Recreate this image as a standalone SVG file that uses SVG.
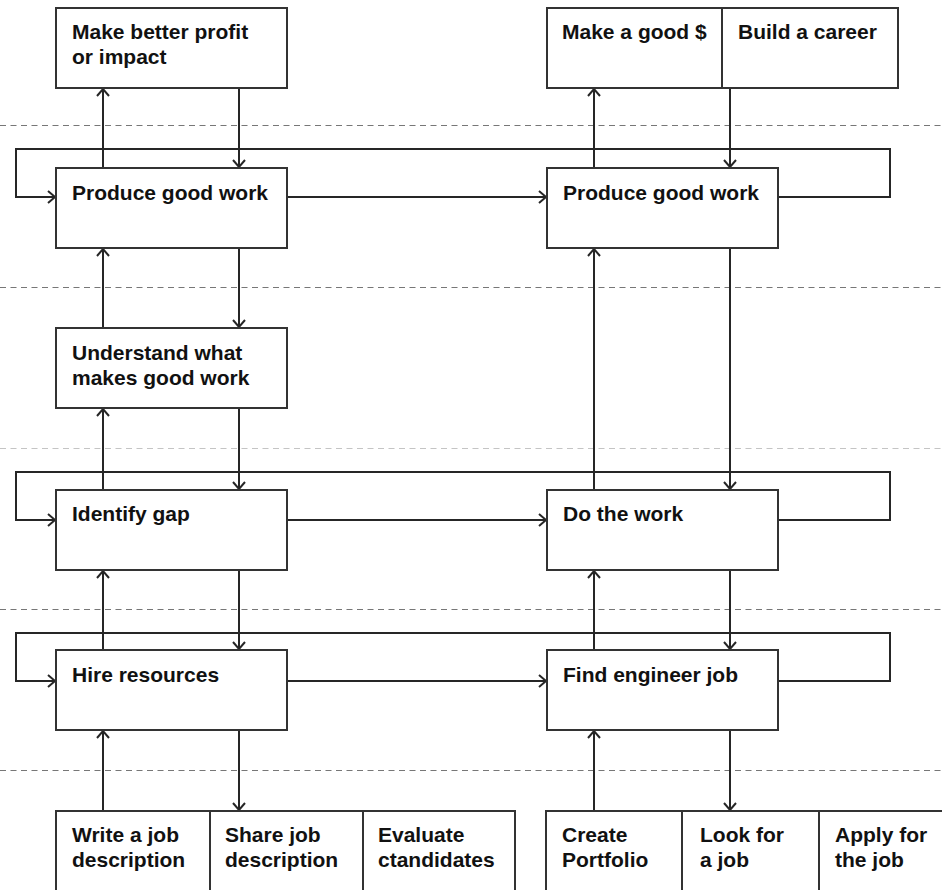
<svg xmlns="http://www.w3.org/2000/svg" width="942" height="890" viewBox="0 0 942 890">
  <style>
    .box { fill: #ffffff; stroke: #333333; stroke-width: 2; }
    .lbl { font-family: "Liberation Sans", Arial, Helvetica, sans-serif; font-weight: bold; font-size: 21px; fill: #111111; }
    .sep { stroke: #777777; stroke-width: 1.2; stroke-dasharray: 6 4.5; fill: none; }
    .sep-light { stroke: #c4c4c4; }
    .wire { stroke: #262626; stroke-width: 2; fill: none; }
    .arr { marker-end: url(#head); }
  </style>
  <defs>
    <marker id="head" viewBox="-9 -8 11 16" markerWidth="11" markerHeight="16" refX="0" refY="0" orient="auto" markerUnits="userSpaceOnUse">
      <path d="M-7,-6 L0,0 L-7,6" fill="none" stroke="#262626" stroke-width="2"/>
    </marker>
  </defs>
  <rect width="942" height="890" fill="#ffffff"/>

  <!-- lane separators -->
  <g id="separators">
    <line class="sep" x1="0" y1="125.5" x2="942" y2="125.5"/>
    <line class="sep" x1="0" y1="287.5" x2="942" y2="287.5"/>
    <line class="sep sep-light" x1="0" y1="448.5" x2="942" y2="448.5"/>
    <line class="sep" x1="0" y1="609.5" x2="942" y2="609.5"/>
    <line class="sep" x1="0" y1="770.5" x2="942" y2="770.5"/>
  </g>

  <!-- connectors -->
  <g id="connectors">
    <!-- feedback loops from right column back to left column -->
    <path class="wire arr" d="M778,197 H890 V149 H16 V197 H55"/>
    <path class="wire arr" d="M778,520 H890 V472 H16 V520 H55"/>
    <path class="wire arr" d="M778,681 H890 V633 H16 V681 H55"/>

    <!-- left column to right column -->
    <path class="wire arr" d="M287,197 H546"/>
    <path class="wire arr" d="M287,520 H546"/>
    <path class="wire arr" d="M287,681 H546"/>

    <!-- left column verticals -->
    <path class="wire arr" d="M103,168 V89"/>
    <path class="wire arr" d="M239,88 V167"/>
    <path class="wire arr" d="M103,328 V249"/>
    <path class="wire arr" d="M239,248 V327"/>
    <path class="wire arr" d="M103,490 V409"/>
    <path class="wire arr" d="M239,408 V489"/>
    <path class="wire arr" d="M103,650 V571"/>
    <path class="wire arr" d="M239,570 V649"/>
    <path class="wire arr" d="M103,811 V731"/>
    <path class="wire arr" d="M239,730 V810"/>

    <!-- right column verticals -->
    <path class="wire arr" d="M594,168 V89"/>
    <path class="wire arr" d="M730,88 V167"/>
    <path class="wire arr" d="M594,490 V249"/>
    <path class="wire arr" d="M730,248 V489"/>
    <path class="wire arr" d="M594,650 V571"/>
    <path class="wire arr" d="M730,570 V649"/>
    <path class="wire arr" d="M594,811 V731"/>
    <path class="wire arr" d="M730,730 V810"/>
  </g>

  <!-- left column -->
  <g id="profit">
    <rect class="box" x="56" y="8" width="231" height="80"/>
    <text class="lbl" x="72" y="39">Make better profit</text>
    <text class="lbl" x="72" y="64">or impact</text>
  </g>
  <g id="good-work-left">
    <rect class="box" x="56" y="168" width="231" height="80"/>
    <text class="lbl" x="72" y="200">Produce good work</text>
  </g>
  <g id="understand">
    <rect class="box" x="56" y="328" width="231" height="80"/>
    <text class="lbl" x="72" y="360">Understand what</text>
    <text class="lbl" x="72" y="385">makes good work</text>
  </g>
  <g id="identify-gap">
    <rect class="box" x="56" y="490" width="231" height="80"/>
    <text class="lbl" x="72" y="521">Identify gap</text>
  </g>
  <g id="hire">
    <rect class="box" x="56" y="650" width="231" height="80"/>
    <text class="lbl" x="72" y="682">Hire resources</text>
  </g>
  <g id="write-jd">
    <rect class="box" x="56" y="811" width="154" height="100"/>
    <text class="lbl" x="72" y="842">Write a job</text>
    <text class="lbl" x="72" y="867">description</text>
  </g>
  <g id="share-jd">
    <rect class="box" x="210" y="811" width="153" height="100"/>
    <text class="lbl" x="225" y="842">Share job</text>
    <text class="lbl" x="225" y="867">description</text>
  </g>
  <g id="evaluate">
    <rect class="box" x="363" y="811" width="152" height="100"/>
    <text class="lbl" x="378" y="842">Evaluate</text>
    <text class="lbl" x="378" y="867">ctandidates</text>
  </g>

  <!-- right column -->
  <g id="good-money">
    <rect class="box" x="547" y="8" width="175" height="80"/>
    <text class="lbl" x="562" y="39">Make a good $</text>
  </g>
  <g id="career">
    <rect class="box" x="722" y="8" width="176" height="80"/>
    <text class="lbl" x="738" y="39">Build a career</text>
  </g>
  <g id="good-work-right">
    <rect class="box" x="547" y="168" width="231" height="80"/>
    <text class="lbl" x="563" y="200">Produce good work</text>
  </g>
  <g id="do-work">
    <rect class="box" x="547" y="490" width="231" height="80"/>
    <text class="lbl" x="563" y="521">Do the work</text>
  </g>
  <g id="find-job">
    <rect class="box" x="547" y="650" width="231" height="80"/>
    <text class="lbl" x="563" y="682">Find engineer job</text>
  </g>
  <g id="portfolio">
    <rect class="box" x="546" y="811" width="136" height="100"/>
    <text class="lbl" x="562" y="842">Create</text>
    <text class="lbl" x="562" y="867">Portfolio</text>
  </g>
  <g id="look-job">
    <rect class="box" x="682" y="811" width="137" height="100"/>
    <text class="lbl" x="700" y="842">Look for</text>
    <text class="lbl" x="700" y="867">a job</text>
  </g>
  <g id="apply-job">
    <rect class="box" x="819" y="811" width="140" height="100"/>
    <text class="lbl" x="835" y="842">Apply for</text>
    <text class="lbl" x="835" y="867">the job</text>
  </g>
</svg>
